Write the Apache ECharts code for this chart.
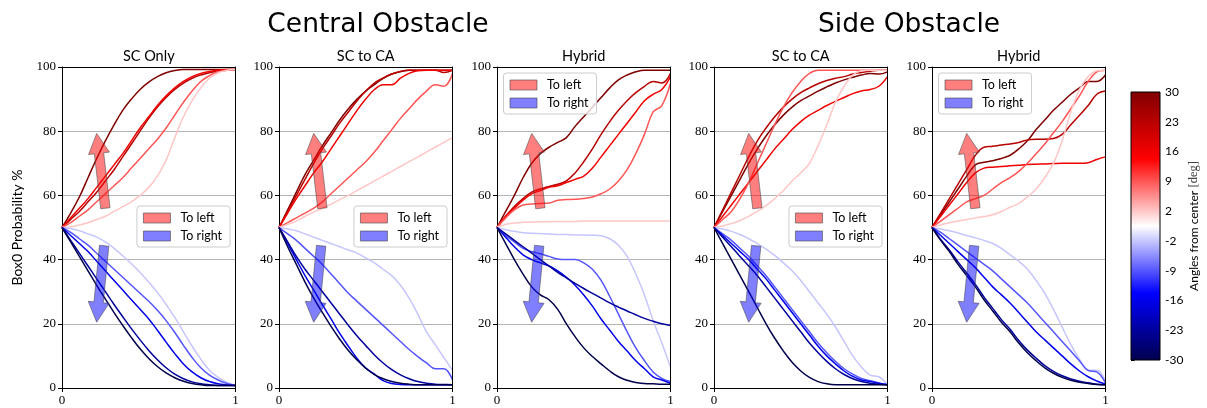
<!DOCTYPE html>
<html>
<head>
<meta charset="utf-8">
<script src="https://cdn.jsdelivr.net/npm/echarts@6/dist/echarts.min.js"></script>
<style>
  html, body { margin: 0; padding: 0; background: #fff; }
  #chart { width: 1207px; height: 408px; }
</style>
</head>
<body>
<div id="chart"></div>
<script>
// Normalised progress along the manoeuvre (shared x samples for every curve)
const X = [0, 0.05, 0.1, 0.15, 0.2, 0.25, 0.3, 0.35, 0.4, 0.45, 0.5,
           0.55, 0.6, 0.65, 0.7, 0.75, 0.8, 0.85, 0.9, 0.95, 1];

// Obstacle angles from center [deg]; row order of every panel table below
const ANGLES = [30, 23, 16, 9, 2, -2, -9, -16, -23, -30];
const COLORBAR_TICKS = ['-30', '-23', '-16', '-9', '-2', '2', '9', '16', '23', '30'];
const X_TICKS = [0, 1];

const PANEL_TITLES = ['SC Only', 'SC to CA', 'Hybrid', 'SC to CA', 'Hybrid'];
const GROUP_TITLES = ['Central Obstacle', 'Side Obstacle'];
const Y_LABEL = 'Box0 Probability %';
const CBAR_LABEL = 'Angles from center';
const CBAR_UNIT = '[deg]';
const LEGEND_NAMES = ['To left', 'To right'];

// Box0 probability (%) per angle, one row per entry of ANGLES
const centralScOnly = [
  [50,54.5,59.5,65.5,71.5,77,82,86.5,90,93,95.3,97,98.2,98.9,99.2,99.2,99.2,99.2,99.2,99.2,99.2],
  [50,52.5,55,58,61,64.5,68,72,76,80,84,87.5,90.5,93,95,96.5,97.5,98.2,98.8,99,99.2],
  [50,53,56,59,62.5,66,69.5,73,77,81,84.5,88,91,93.5,95.5,97,98,98.6,99,99.2,99.2],
  [50,51.5,53.5,55.5,58,60.5,63,65.5,68.5,71.5,74.5,77.5,81,85,89,92.5,95.5,97.3,98.5,99,99.2],
  [50,50.2,50.8,51.5,52.5,53.5,55,56.5,58,60,62.5,66,71,78,84.5,89.5,93.5,96.5,98.2,99,99.2],
  [50,49.7,49,48,47,45.5,43.5,41.2,38.7,36,33,29.8,26,22,17.5,13,9,5.5,3.3,1.8,0.8],
  [50,48.5,46.5,44.5,42,39.5,37,34.5,32,29.5,27,24.2,21,17.3,13.3,9.5,6.3,4,2.5,1.4,0.8],
  [50,47.5,45,42.5,39.5,36.5,33.5,30.5,27.5,24.5,21.5,18,14.3,10.7,7.5,5,3.2,2,1.3,0.9,0.8],
  [50,46,42,38,34,30,26,22.2,18.5,15,11.7,8.8,6.3,4.3,2.9,1.9,1.3,1,0.8,0.8,0.8],
  [50,45.5,41,36.5,32,27.7,23.5,19.5,15.7,12.2,9.2,6.7,4.7,3.2,2.1,1.4,1,0.8,0.8,0.8,0.8]
];

const centralScToCa = [
  [50,55.5,61,66.5,71,75.5,79.5,83.5,87,90,92.5,94.5,96.5,97.8,98.6,99,99,99,99,99,99],
  [50,55,60,65,70,74.5,78.5,82.5,86,89.5,92.5,95,96.5,97.8,98.6,99,99,99,99,98.3,99],
  [50,54.5,59,63,67,70.5,74.5,78.5,82.5,86.5,90,93,94.5,94.5,96.5,98,98.8,99,99,99,99],
  [50,51.5,53,54.5,56,58,60.5,63,65.5,68,70.5,73.5,77,80.5,84,87,90,92.5,94.5,94,98],
  [50,51,52,53.5,54.8,56,57.3,58.7,60,61.5,63,64.5,66,67.5,69,70.5,72,73.5,75,76.5,78],
  [50,49.5,49,48,47,46,45,44,43,42,40.5,39,37,35,32,28,23,17.5,13.5,9.5,5.5],
  [50,48,46,43.5,41,38.5,35.5,32.5,29.5,27,24.5,22,19.5,17,14.5,12,9.8,7.8,6,6,2.5],
  [50,45,40,35,30.5,26,21.5,17,13,9.2,6.2,4.3,2.3,1.4,1.1,1,1,1,1,1,1],
  [50,45.5,41,37,33.5,30,26.5,23,19.5,16.2,13.2,10.3,7.8,5.7,4.1,2.9,2,1.5,1.2,1.1,1],
  [50,44,38.5,33,28,23.5,19.2,15.2,11.7,8.7,6.2,4.2,2.9,2,1.5,1.2,1,1,1,1,1]
];

const centralHybrid = [
  [50,55,60,65.5,70,73,75,76.5,78,81.5,84.5,87.5,90.5,93.5,96,97.5,98.5,99,99,99,99],
  [50,53.5,56.5,59,61,62,62.8,63.5,64.5,67,70.5,74.5,79,83,86.5,89.5,92,94,95.5,95,98],
  [50,53.5,56,58.5,60.5,61.5,62.5,63,64,65,66,68.5,72,75.5,79,82.5,86,89.5,91.5,93,97],
  [50,53,55.5,57,57.3,57.5,57.6,58.5,58.7,58.8,59,59.5,60.5,62,64.5,68,73,79,86,88,95],
  [50,51,51.4,51.6,51.7,51.8,51.8,51.9,51.9,51.9,52,52,52,52,52,52,52,52,52,52,52],
  [50,49.3,48.8,48.4,48.2,48.1,48,47.8,47.8,47.7,47.7,47.6,47.4,46.5,44.5,41,35.5,29,21,14,6.5],
  [50,47.5,45.5,43.5,42.5,41.8,41,40.2,40,40,39,37,33.5,28.5,23,17.5,12.5,8.5,5,3,2],
  [50,47,44,41.5,40,39,38,36.5,34.5,32,29,25.5,21.5,18,14.5,11.5,8.5,6,3.5,2.5,1.5],
  [50,48,46,44,42,40,38,36,34.3,32.6,31,29.5,28,26.5,25.2,24,22.8,21.7,20.8,20,19.5],
  [50,45,40,35.5,31.5,29,27.5,24.5,20,16,12.5,9.8,7.5,5.3,3.5,2.4,1.7,1.4,1.3,1.2,1.2]
];

const sideScToCa = [
  [50,55,60,65,70,74.5,78.5,82,85,87.5,89.5,91,92.5,93.8,95,96,96.8,97.5,98,97.8,98.5],
  [50,55.5,61,66.5,72,77,81,84.5,87.5,90,92,93.5,94.8,95.8,96.5,97,97.8,98.3,98.7,99,99],
  [50,53.5,57,60.5,64,67.5,71,74.5,77.5,80.5,83,85,86.5,88,89.3,90.5,91.7,92.5,93,94,97],
  [50,52.5,55,59,64,70,76,82,87.5,92,95.5,98,99,99,99,99,99,99,99,99,99],
  [50,50.5,51.2,52.2,53.5,55,56.8,59,61.5,64.5,67,70,75.5,82,89,94,97.5,98.8,99,99,99],
  [50,49.5,48.8,47.8,46.5,45,43.3,41.3,39,36.5,33.5,30,26.5,23,19,14.5,10,6.5,4,3.5,1],
  [50,48,46,43.5,41,38,35,31.5,28,24.5,21,17.5,14,11,8.3,6,4.3,3,2.3,1.6,1],
  [50,47.5,45,42.5,40,37,34,30.5,27,23.5,20,16.5,13,10,7.5,5.3,3.6,2.5,2,1.5,1],
  [50,47,44,41,38,35,31.5,28,24.5,21,17.5,14,11,8.3,6,4.2,2.9,2,1.5,1.2,1],
  [50,45,40,35,30,25,20,15.5,11.5,8,5.3,3.3,2,1.3,1,1,1,1,1,1,1]
];

const sideHybrid = [
  [50,54,58,62,66,69.5,70.3,70.8,71.5,72.5,74.5,77,80.5,83.5,86.5,89,91.5,93.5,95.5,95.5,97.5],
  [50,54.5,59,63.5,68,72.5,75,75.3,75.7,76,76.5,77.3,77.5,77.5,77.7,79,82,85,88,91.5,92.5],
  [50,53.5,57,60.5,64,67,68.5,68.8,69,69.2,69.4,69.6,69.7,69.8,69.9,70,70,70,70.2,71.2,72],
  [50,52,54,56,58,59,60,62,64,65.5,67.5,70,73,76,79.5,83,87,91,95.5,98.5,99],
  [50,50.8,51.5,52,52.5,53,53.4,54,55,56.3,57.5,59.5,62,65.5,70,77,86,93,97,98.8,99],
  [50,49.5,49,48.3,47.5,46.8,46,45,43.5,41.5,39.5,37,33.5,29.5,24.5,19,13.5,9,5.5,5.5,2],
  [50,48.5,46.5,44.5,42.5,40.5,38.5,36.5,34,31.5,29,26.5,23.5,20.5,17.5,14.5,11.5,8.5,5.5,5,1.5],
  [50,47.5,45,42.5,40,37.5,34.5,31.5,29,26.5,23.5,20.5,17.5,15,12.5,10,7.5,5.3,3.5,2.2,1.2],
  [50,46.3,43,39.3,35.8,32.3,28.3,24.8,21.3,18.3,14.8,11.8,9.3,7,5.2,3.8,2.8,2.1,1.6,1.2,1],
  [50,46,42.5,38.5,35,31.5,27.5,24,20.5,17.5,14,11,8.5,6.3,4.6,3.3,2.4,1.8,1.4,1.1,1]
];

// Trend arrows in data space: [xTail, yTail, xHead, yHead]
const ARROW_LEFT = [0.25, 56, 0.2, 79.3];
const ARROW_RIGHT = [0.243, 44.3, 0.2, 20.5];

const PANELS = [centralScOnly, centralScToCa, centralHybrid, sideScToCa, sideHybrid];

// ---- layout ----
const PANEL_LEFT = [62, 279, 497, 714, 932];
const PANEL_W = 173.5;
const PANEL_TOP = 67;
const PANEL_H = 321;
const CBAR = { left: 1131, top: 92, width: 29, height: 268 };

const SERIF = 'Liberation Serif';
const SANS = 'Lato';

// matplotlib "seismic" colormap
const SEISMIC = [
  [0.0, [0, 0, 0.3]],
  [0.25, [0, 0, 1]],
  [0.5, [1, 1, 1]],
  [0.75, [1, 0, 0]],
  [1.0, [0.5, 0, 0]]
];
function seismic(t) {
  for (let i = 1; i < SEISMIC.length; i++) {
    const [t0, c0] = SEISMIC[i - 1];
    const [t1, c1] = SEISMIC[i];
    if (t <= t1) {
      const f = (t - t0) / (t1 - t0);
      const c = c0.map((v, k) => Math.round(255 * (v + (c1[k] - v) * f)));
      return 'rgb(' + c.join(',') + ')';
    }
  }
  return 'rgb(128,0,0)';
}
// colour of each angle follows its (evenly spaced) slot on the colour bar
const angleColor = idx => seismic((ANGLES.length - 1 - idx) / (ANGLES.length - 1));

const RED_FILL = 'rgba(255,0,0,0.5)';
const BLUE_FILL = 'rgba(0,0,255,0.5)';
const ARROW_EDGE = 'rgba(70,70,70,0.55)';

function arrowRenderer(fill) {
  return function (params, api) {
    const p0 = api.coord([api.value(0), api.value(1)]);
    const p1 = api.coord([api.value(2), api.value(3)]);
    const dx = p1[0] - p0[0], dy = p1[1] - p0[1];
    const len = Math.hypot(dx, dy);
    const ux = dx / len, uy = dy / len;
    const nx = -uy, ny = ux;
    const hw = 4.7, hh = 10.5, hl = 20;
    const bx = p1[0] - ux * hl, by = p1[1] - uy * hl;
    const pts = [
      [p0[0] + nx * hw, p0[1] + ny * hw],
      [bx + nx * hw, by + ny * hw],
      [bx + nx * hh, by + ny * hh],
      [p1[0], p1[1]],
      [bx - nx * hh, by - ny * hh],
      [bx - nx * hw, by - ny * hw],
      [p0[0] - nx * hw, p0[1] - ny * hw]
    ];
    return {
      type: 'polygon',
      shape: { points: pts },
      style: { fill: fill, stroke: ARROW_EDGE, lineWidth: 1 }
    };
  };
}

const grid = [], xAxis = [], yAxis = [], series = [], legend = [], graphic = [];

PANELS.forEach((rows, p) => {
  const left = PANEL_LEFT[p];
  grid.push({ left: left, top: PANEL_TOP, width: PANEL_W, height: PANEL_H });

  // bottom axis
  xAxis.push({
    gridIndex: p, type: 'value', min: 0, max: 1, interval: 1, z: 3,
    axisLine: { show: true, onZero: false, lineStyle: { color: '#000', width: 1 } },
    axisTick: { show: true, length: 4, lineStyle: { color: '#000' } },
    axisLabel: { fontFamily: SERIF, fontSize: 13, color: '#000', margin: 6,
                 formatter: v => (X_TICKS.indexOf(v) >= 0 ? String(v) : '') },
    splitLine: { show: false }
  });
  // top frame
  xAxis.push({
    gridIndex: p, type: 'value', position: 'top', min: 0, max: 1, z: 3,
    axisLine: { show: true, onZero: false, lineStyle: { color: '#000', width: 1 } },
    axisTick: { show: false }, axisLabel: { show: false }, splitLine: { show: false }
  });
  // left axis
  yAxis.push({
    gridIndex: p, type: 'value', min: 0, max: 100, interval: 20,
    axisLine: { show: true, onZero: false, lineStyle: { color: '#000', width: 1 } },
    axisTick: { show: true, length: 4, lineStyle: { color: '#000' } },
    axisLabel: { fontFamily: SERIF, fontSize: 13, color: '#000', margin: 6 },
    splitLine: { show: true, lineStyle: { color: '#b3b3b3', width: 1 } }
  });
  // right frame
  yAxis.push({
    gridIndex: p, type: 'value', position: 'right', min: 0, max: 100, z: 3,
    axisLine: { show: true, onZero: false, lineStyle: { color: '#000', width: 1 } },
    axisTick: { show: false }, axisLabel: { show: false }, splitLine: { show: false }
  });

  rows.forEach((ys, i) => {
    series.push({
      type: 'line',
      name: String(ANGLES[i]),
      xAxisIndex: 2 * p, yAxisIndex: 2 * p,
      data: X.map((x, k) => [x, ys[k]]),
      showSymbol: false, symbol: 'none',
      smooth: 0.4,
      lineStyle: { color: angleColor(i), width: 1.5 },
      z: 2, silent: true, animation: false
    });
  });

  series.push({
    type: 'custom', name: LEGEND_NAMES[0],
    xAxisIndex: 2 * p, yAxisIndex: 2 * p,
    dimensions: ['x0', 'y0', 'x1', 'y1'],
    data: [ARROW_LEFT],
    renderItem: arrowRenderer(RED_FILL),
    itemStyle: { color: RED_FILL },
    z: 5, silent: true, animation: false
  });
  series.push({
    type: 'custom', name: LEGEND_NAMES[1],
    xAxisIndex: 2 * p, yAxisIndex: 2 * p,
    dimensions: ['x0', 'y0', 'x1', 'y1'],
    data: [ARROW_RIGHT],
    renderItem: arrowRenderer(BLUE_FILL),
    itemStyle: { color: BLUE_FILL },
    z: 5, silent: true, animation: false
  });

  // legend: top-left for the Hybrid panels, mid-right for the others
  const topLeft = (p === 2 || p === 4);
  const lg = {
    orient: 'vertical',
    selectedMode: false,
    data: [
      { name: LEGEND_NAMES[0], icon: 'rect', itemStyle: { color: RED_FILL, borderColor: 'rgba(70,70,70,0.6)', borderWidth: 1 } },
      { name: LEGEND_NAMES[1], icon: 'rect', itemStyle: { color: BLUE_FILL, borderColor: 'rgba(70,70,70,0.6)', borderWidth: 1 } }
    ],
    itemWidth: 27, itemHeight: 10, itemGap: 4,
    padding: [5, 8, 4, 6],
    backgroundColor: 'rgba(255,255,255,0.8)',
    borderColor: '#cccccc', borderWidth: 1, borderRadius: 3,
    textStyle: { fontFamily: SANS, fontSize: 12.5, color: '#000', lineHeight: 14, padding: [0, 0, 0, 5] }
  };
  if (topLeft) {
    lg.left = left + 6.5;
    lg.top = 73;
  } else {
    lg.right = 1207 - (left + PANEL_W - 5.5);
    lg.top = 206;
  }
  legend.push(lg);

  graphic.push({
    type: 'text', silent: true,
    style: { text: PANEL_TITLES[p], x: left + PANEL_W / 2, y: 56,
             align: 'center', verticalAlign: 'middle',
             font: '14.5px ' + SANS, fill: '#000' }
  });
});

// colour bar axis (labels only)
const cbGrid = grid.length;
grid.push({ left: CBAR.left, top: CBAR.top, width: CBAR.width, height: CBAR.height });
xAxis.push({ gridIndex: cbGrid, type: 'value', min: 0, max: 1, show: false });
yAxis.push({
  gridIndex: cbGrid, type: 'category', position: 'right', boundaryGap: false,
  data: COLORBAR_TICKS,
  axisLine: { show: false },
  axisTick: { show: true, length: 3.5, alignWithLabel: true, lineStyle: { color: '#000' } },
  axisLabel: { fontFamily: SANS, fontSize: 12, color: '#000', margin: 5 },
  splitLine: { show: false }
});

graphic.push({
  type: 'rect', silent: true, z: 10,
  shape: { x: CBAR.left, y: CBAR.top, width: CBAR.width, height: CBAR.height },
  style: {
    fill: new echarts.graphic.LinearGradient(0, 0, 0, 1,
      SEISMIC.map(([t]) => ({ offset: 1 - t, color: seismic(t) }))),
    stroke: '#000', lineWidth: 1
  }
});

graphic.push({
  type: 'text', silent: true, rotation: Math.PI / 2, x: 1194, y: CBAR.top + CBAR.height / 2,
  style: {
    text: '{a|' + CBAR_LABEL + '} {b|' + CBAR_UNIT + '}',
    align: 'center', verticalAlign: 'middle',
    rich: {
      a: { fontFamily: SANS, fontSize: 12, fill: '#000' },
      b: { fontFamily: SERIF, fontSize: 12.5, fill: '#444' }
    }
  }
});

graphic.push({
  type: 'text', silent: true, rotation: Math.PI / 2, x: 17, y: PANEL_TOP + PANEL_H / 2,
  style: { text: Y_LABEL, align: 'center', verticalAlign: 'middle',
           font: '14px ' + SANS, fill: '#000' }
});

graphic.push({
  type: 'text', silent: true,
  style: { text: GROUP_TITLES[0], x: 378, y: 25, align: 'center', verticalAlign: 'middle',
           font: '26.5px "DejaVu Sans"', fill: '#000' }
});
graphic.push({
  type: 'text', silent: true,
  style: { text: GROUP_TITLES[1], x: 909, y: 25, align: 'center', verticalAlign: 'middle',
           font: '26.5px "DejaVu Sans"', fill: '#000' }
});

const chart = echarts.init(document.getElementById('chart'), null, { renderer: 'canvas' });
chart.setOption({
  animation: false,
  backgroundColor: '#fff',
  grid, xAxis, yAxis, series, legend, graphic
});
</script>
</body>
</html>
